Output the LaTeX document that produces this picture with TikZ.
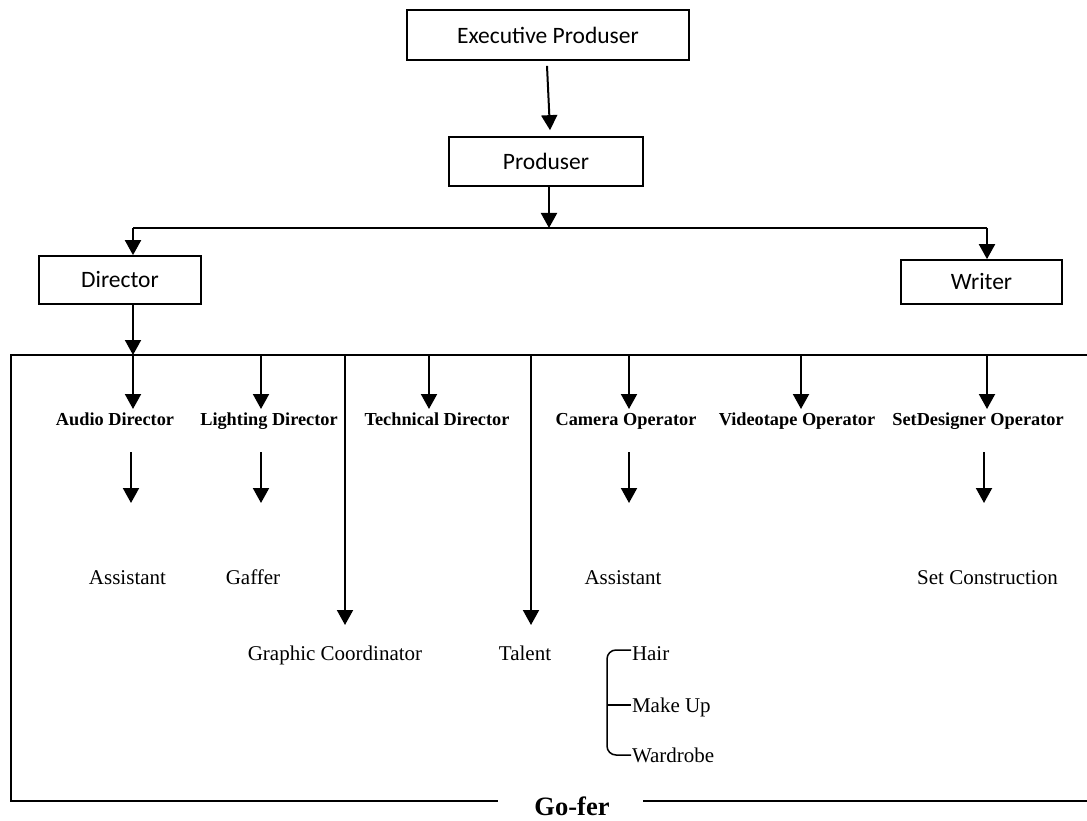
\documentclass[tikz,border=0pt]{standalone}
\usepackage{fontspec}
\setmainfont{Liberation Serif}
\newfontfamily\boxfont{Carlito}
\usetikzlibrary{arrows.meta}
\begin{document}
\begin{tikzpicture}[x=1pt,y=-1pt,
  line width=2pt,
  arr/.style={-{Triangle[width=16pt,length=15pt]}},
  role/.style={draw, line width=1.7pt, inner sep=0pt,
    font=\boxfont\fontsize{23.5}{28}\selectfont},
  head/.style={font=\bfseries\fontsize{18.3}{22}\selectfont, anchor=base, inner sep=0pt},
  sub/.style={font=\fontsize{21}{25}\selectfont, anchor=base, inner sep=0pt},
  bigcap/.style={font=\bfseries\fontsize{26.5}{30}\selectfont, anchor=base, inner sep=0pt}]
\useasboundingbox (0,0) rectangle (1087,821);

% management boxes
\node[role, minimum width=282pt, minimum height=50pt] (ep) at (548,35) {Executive Produser};
\node[role, minimum width=194pt, minimum height=49pt] (pr) at (546,161.5) {Produser};
\node[role, minimum width=162pt, minimum height=48pt] (dir) at (120,280) {Director};
\node[role, minimum width=161pt, minimum height=44pt] (wri) at (981.5,282) {Writer};

\draw[arr] ([xshift=-1pt,yshift=-5pt]ep.south) -- ([xshift=4pt,yshift=6pt]pr.north);

% distribution bus under the producer
\coordinate (bus) at (549,228);
\coordinate (busL) at (133,228);
\coordinate (busR) at (987,228);
\draw[arr] (pr.south -| bus) -- (bus);
\draw (busL) -- (busR);
\draw[arr] (busL) -- (busL |- dir.north);
\draw[arr] (busR) -- (busR |- wri.north);

% crew frame
\coordinate (fTR) at (1087,355);
\coordinate (fTL) at (11,355);
\coordinate (fBL) at (11,801);
\coordinate (fBR) at (1087,801);
\node[bigcap] (gofer) at (572,815) {Go-fer};
\draw (fTR) -- (fTL) -- (fBL) -- (498,801);
\draw (643,801) -- (fBR);
\draw[arr] (dir.south -| busL) -- (busL |- fTL);

% department heads
\node[head] (audio) at (115,425) {Audio Director};
\node[head] (light) at (269,425) {Lighting Director};
\node[head] (tech)  at (437,425) {Technical Director};
\node[head] (cam)   at (626,425) {Camera Operator};
\node[head] (video) at (797,425) {Videotape Operator};
\node[head] (setd)  at (978,425) {SetDesigner Operator};

\foreach \x in {133,261,429,629,801,987}
  \draw[arr] (\x,355) -- (\x,409);

% second level
\node[sub] (asst1)  at (127.5,584) {Assistant};
\node[sub] (gaffer) at (253,584) {Gaffer};
\node[sub] (asst2)  at (623,584) {Assistant};
\node[sub] (setc)   at (987.5,584) {Set Construction};

\foreach \x in {131,261,629,984}
  \draw[arr] (\x,452) -- (\x,503);

% long drops from the crew line
\node[sub] (graph)  at (335,660) {Graphic Coordinator};
\node[sub] (talent) at (525,660) {Talent};
\draw[arr] (345,355) -- (345,625);
\draw[arr] (531,355) -- (531,625);

% talent support
\node[sub, anchor=base west] (hair)     at (631,660) {Hair};
\node[sub, anchor=base west] (makeup)   at (631,712) {Make Up};
\node[sub, anchor=base west] (wardrobe) at (631,762) {Wardrobe};
\coordinate (brk) at (607,705);
\draw[line width=1.5pt, rounded corners=9pt]
  (hair.west |- 0,650) -- (brk |- 0,650) -- (brk |- 0,755) -- (wardrobe.west |- 0,755);
\draw[line width=1.5pt] (brk) -- (makeup.west |- brk);
\end{tikzpicture}
\end{document}
